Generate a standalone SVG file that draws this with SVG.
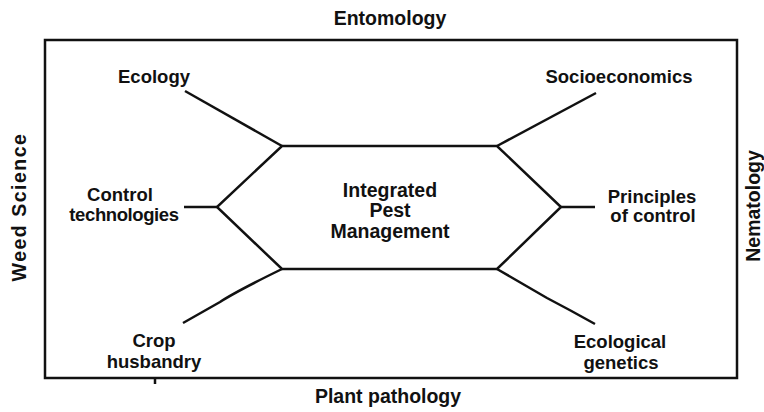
<svg xmlns="http://www.w3.org/2000/svg" width="764" height="412" viewBox="0 0 764 412">
<style>
.t{font-family:"Liberation Sans",Arial,sans-serif;font-weight:bold;fill:#111;text-anchor:middle;}
.s{font-size:18.5px;}
.c{font-size:19.5px;}
.b{font-size:19.5px;}
.ln{fill:none;stroke:#111;stroke-width:2.5;stroke-linejoin:miter;}
</style>
<rect width="764" height="412" fill="#ffffff"/>
<g id="frame">
<rect x="45" y="40" width="692" height="338" class="ln" stroke-width="2"/>
<line x1="155" y1="378" x2="155" y2="384" class="ln" stroke-width="1.6"/>
</g>
<g id="label-entomology"><text class="t b" x="390" y="25">Entomology</text></g>
<g id="label-plant-pathology"><text class="t b" x="388" y="403">Plant pathology</text></g>
<g id="label-weed-science"><text class="t b" transform="translate(26,207) rotate(-90)" letter-spacing="1.5">Weed Science</text></g>
<g id="label-nematology"><text class="t b" transform="translate(760,206) rotate(-90)">Nematology</text></g>
<g id="ipm">
<polygon points="282,146 497,146 561,207 497,269 282,269 217,207" class="ln" stroke-width="2.6"/>
<text class="t c" x="390" y="197">Integrated</text>
<text class="t c" x="390" y="217">Pest</text>
<text class="t c" x="390" y="238">Management</text>
</g>
<g id="ecology"><text class="t s" x="154" y="83">Ecology</text></g>
<g id="socioeconomics"><text class="t s" x="619" y="83">Socioeconomics</text></g>
<g id="control-technologies"><text class="t s" x="120" y="201">Control</text><text class="t s" x="124" y="221" letter-spacing="-0.4">technologies</text></g>
<g id="principles-of-control"><text class="t s" x="652" y="203">Principles</text><text class="t s" x="653" y="222">of control</text></g>
<g id="crop-husbandry"><text class="t s" x="154" y="347">Crop</text><text class="t s" x="154" y="368">husbandry</text></g>
<g id="ecological-genetics"><text class="t s" x="620" y="348">Ecological</text><text class="t s" x="621" y="369">genetics</text></g>
<g id="connectors">
<line x1="185" y1="91" x2="282" y2="146" class="ln"/>
<line x1="596" y1="93" x2="497" y2="146" class="ln"/>
<line x1="184" y1="207" x2="217" y2="207" class="ln"/>
<line x1="561" y1="207" x2="595" y2="207" class="ln"/>
<path d="M282,269 Q235,292 220,302 L183,323" class="ln"/>
<path d="M497,269 L547,298 Q570,310 595,324" class="ln"/>
</g>
</svg>
